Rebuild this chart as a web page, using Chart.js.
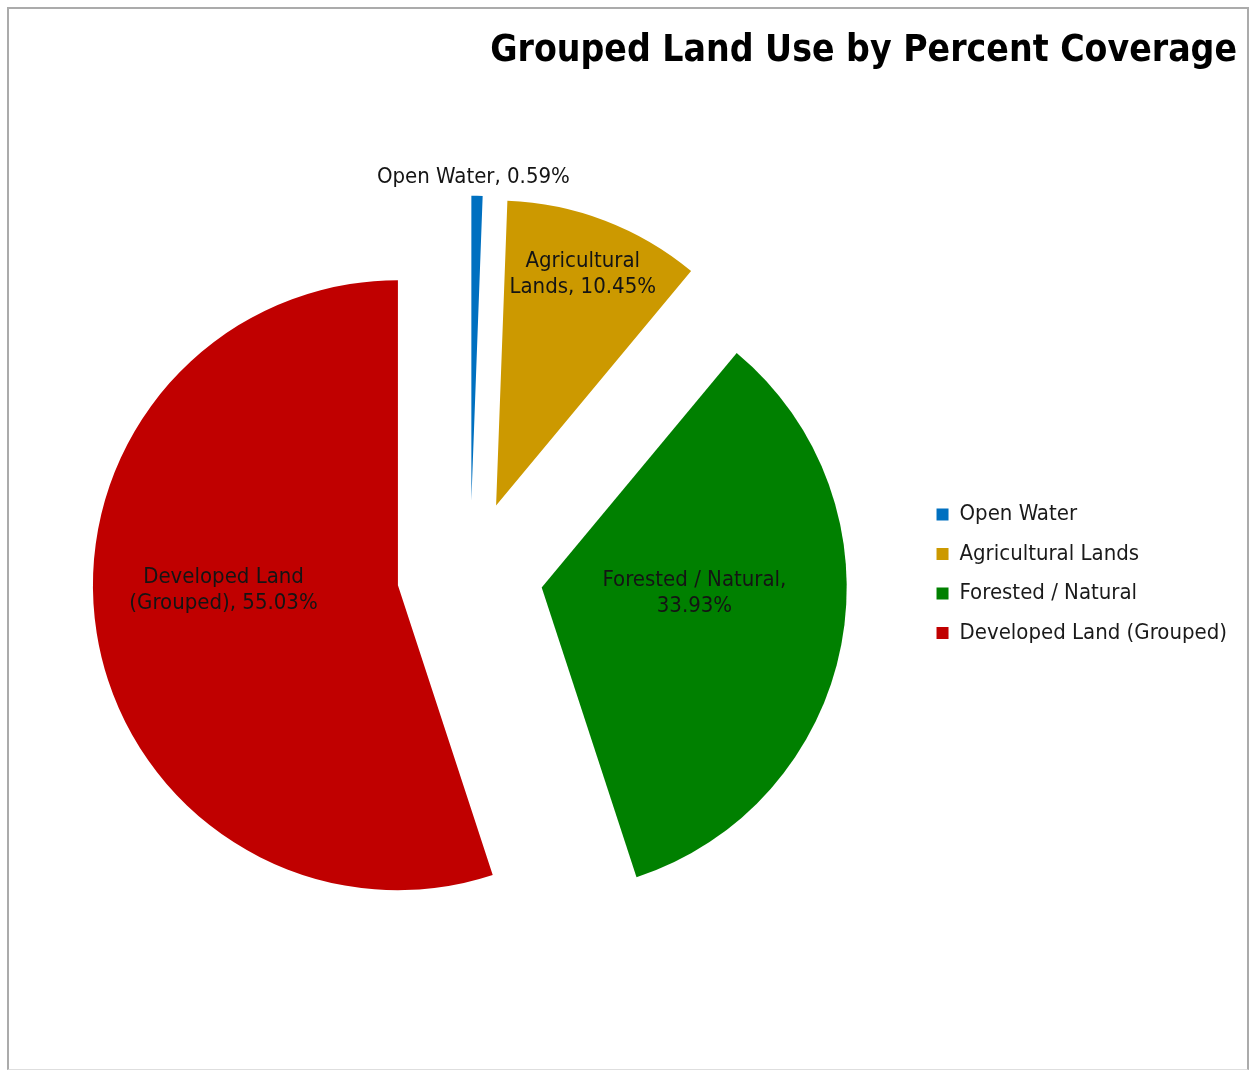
<!DOCTYPE html>
<html>
<head>
<meta charset="utf-8">
<script src="https://cdn.jsdelivr.net/npm/chart.js@4.4.1/dist/chart.umd.min.js"></script>
<style>
  html, body { margin: 0; padding: 0; background: #ffffff; }
  #wrap { position: relative; width: 1250px; height: 1070px; overflow: hidden; background: #ffffff; }
  #c { position: absolute; left: 0; top: 0; }
  #frame { position: absolute; left: 7px; top: 7px; width: 1242px; height: 1063px; box-sizing: border-box;
           border-left: 2px solid #ababab; border-top: 2px solid #ababab; border-right: 2px solid #ababab;
           border-bottom: 1px solid #dedede; pointer-events: none; }
</style>
</head>
<body>
<div id="wrap">
  <canvas id="c" width="1250" height="1070"></canvas>
  <div id="frame"></div>
</div>
<script>
// ---- data ----
const categories = ['Open Water', 'Agricultural Lands', 'Forested / Natural', 'Developed Land (Grouped)'];
const percentCoverage = [0.59, 10.45, 33.93, 55.03];
const sliceColors = ['#0070C0', '#CC9900', '#008000', '#C00000'];
const chartTitle = 'Grouped Land Use by Percent Coverage';

// ---- styling / placement ----
const FONT = "'DejaVu Sans Condensed', 'DejaVu Sans', sans-serif";
const explodeDistance = 73;          // px each slice is pulled out along its bisector
const labelWordsOnFirstLine = [0, 1, 3, 2];   // 0 = single line
const labelPlacement = [             // radius fraction & angle shift (deg) from slice bisector
  { frac: 1.059, shift: -0.7 },
  { frac: 0.81,  shift: -0.4 },
  { frac: 0.501, shift: -8.8 },
  { frac: 0.572, shift: 7.3 }
];

const explodePlugin = {
  id: 'explodeSlices',
  beforeDatasetDraw(chart, args) {
    const ctx = chart.ctx;
    args.meta.data.forEach(arc => {
      const mid = (arc.startAngle + arc.endAngle) / 2;
      ctx.save();
      ctx.translate(Math.cos(mid) * explodeDistance, Math.sin(mid) * explodeDistance);
      arc.draw(ctx);
      ctx.restore();
    });
    return false;
  }
};

const dataLabelPlugin = {
  id: 'sliceLabels',
  afterDatasetsDraw(chart) {
    const ctx = chart.ctx;
    const meta = chart.getDatasetMeta(0);
    ctx.save();
    ctx.font = '22px ' + FONT;
    ctx.textAlign = 'center';
    ctx.textBaseline = 'middle';
    ctx.fillStyle = '#141414';
    meta.data.forEach((arc, i) => {
      const mid = (arc.startAngle + arc.endAngle) / 2;
      const ax = arc.x + Math.cos(mid) * explodeDistance;
      const ay = arc.y + Math.sin(mid) * explodeDistance;
      const p = labelPlacement[i];
      const a = mid + p.shift * Math.PI / 180;
      const r = arc.outerRadius * p.frac;
      const lx = ax + Math.cos(a) * r;
      const ly = ay + Math.sin(a) * r;
      const text = categories[i] + ', ' + percentCoverage[i].toFixed(2) + '%';
      const words = text.split(' ');
      const n = labelWordsOnFirstLine[i];
      const lines = n ? [words.slice(0, n).join(' '), words.slice(n).join(' ')] : [text];
      const lh = 26;
      lines.forEach((ln, k) => ctx.fillText(ln, lx, ly + (k - (lines.length - 1) / 2) * lh));
    });
    ctx.restore();
  }
};

new Chart(document.getElementById('c'), {
  type: 'pie',
  data: {
    labels: categories,
    datasets: [{
      data: percentCoverage,
      backgroundColor: sliceColors,
      borderWidth: 0,
      radius: 305
    }]
  },
  options: {
    responsive: false,
    animation: false,
    layout: { padding: { left: 21, right: 13, top: 1, bottom: 16 } },
    plugins: {
      title: {
        display: true,
        text: chartTitle,
        align: 'end',
        color: '#000000',
        font: { family: FONT, size: 37, weight: 'bold' },
        padding: { top: 28, bottom: 20 }
      },
      legend: {
        position: 'right',
        align: 'center',
        fullSize: false,
        labels: {
          boxWidth: 12,
          boxHeight: 12,
          padding: 17.5,
          color: '#1a1a1a',
          font: { family: FONT, size: 22 }
        }
      },
      tooltip: { enabled: false }
    }
  },
  plugins: [explodePlugin, dataLabelPlugin]
});
</script>
</body>
</html>
